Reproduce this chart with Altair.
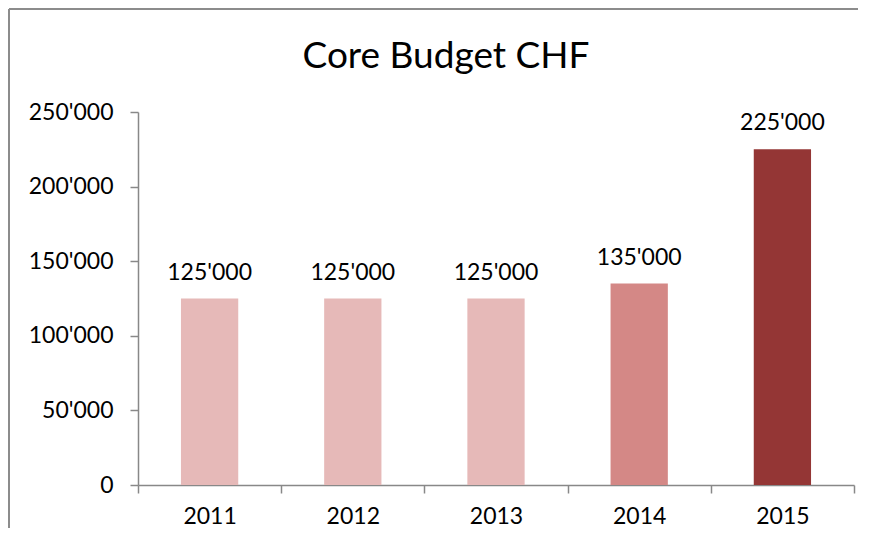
import altair as alt
import pandas as pd

years = ["2011", "2012", "2013", "2014", "2015"]
budget = [125000, 125000, 125000, 135000, 225000]
colors = ["#E6B9B8", "#E6B9B8", "#E6B9B8", "#D48886", "#943635"]
y_ticks = [0, 50000, 100000, 150000, 200000, 250000]

df = pd.DataFrame({"year": years, "budget": budget, "color": colors})

FONT = "Lato"
AXIS_COLOR = "#888888"
SWISS = "replace(format(datum.value, ',d'), ',', \"'\")"

x_enc = alt.X(
    "year:N",
    sort=years,
    title=None,
    scale=alt.Scale(paddingInner=0, paddingOuter=0),
    axis=alt.Axis(
        labelAngle=0,
        labelFont=FONT,
        labelFontSize=23,
        labelColor="#000000",
        labelPadding=12,
        tickBand="extent",
        tickSize=8,
        tickColor=AXIS_COLOR,
        tickWidth=1.5,
        domainColor=AXIS_COLOR,
        domainWidth=1.5,
        grid=False,
    ),
)

y_enc = alt.Y(
    "budget:Q",
    title=None,
    scale=alt.Scale(domain=[0, 250000], nice=False),
    axis=alt.Axis(
        values=y_ticks,
        labelExpr=SWISS,
        labelFont=FONT,
        labelFontSize=23,
        labelColor="#000000",
        labelPadding=17,
        tickSize=8,
        tickColor=AXIS_COLOR,
        tickWidth=1.5,
        domainColor=AXIS_COLOR,
        domainWidth=1.5,
        grid=False,
    ),
)

base = alt.Chart(df).transform_calculate(
    label="replace(format(datum.budget, ',d'), ',', \"'\")"
)

bars = base.mark_bar(width=alt.RelativeBandSize(0.4)).encode(
    x=x_enc,
    y=y_enc,
    color=alt.Color("color:N", scale=None, legend=None),
)

labels = base.mark_text(
    font=FONT, fontSize=23, color="#000000", baseline="alphabetic", dy=-19
).encode(
    x=alt.X("year:N", sort=years),
    y=alt.Y("budget:Q"),
    text=alt.Text("label:N"),
)

frame_left = base.mark_rule(color="#8c8c8c", strokeWidth=2).encode(
    x=alt.value(-129), y=alt.value(-103), y2=alt.value(440)
)
frame_top = base.mark_rule(color="#8c8c8c", strokeWidth=2).encode(
    x=alt.value(-129), x2=alt.value(720), y=alt.value(-103)
)

chart = (
    alt.layer(frame_left, frame_top, bars, labels)
    .properties(
        width=716,
        height=373,
        autosize=alt.AutoSizeParams(type="none"),
        padding={"left": 130, "top": 104, "right": 4, "bottom": 43},
        title=alt.TitleParams(
            "Core Budget CHF",
            font=FONT,
            fontSize=37,
            fontWeight="normal",
            color="#000000",
            anchor="middle",
            frame="group",
            dx=-50,
            dy=68,
            offset=0,
        ),
    )
    .configure(background="#ffffff")
    .configure_view(stroke=None)
)

chart.save("out.html", embed_options={"renderer": "svg", "actions": False})
